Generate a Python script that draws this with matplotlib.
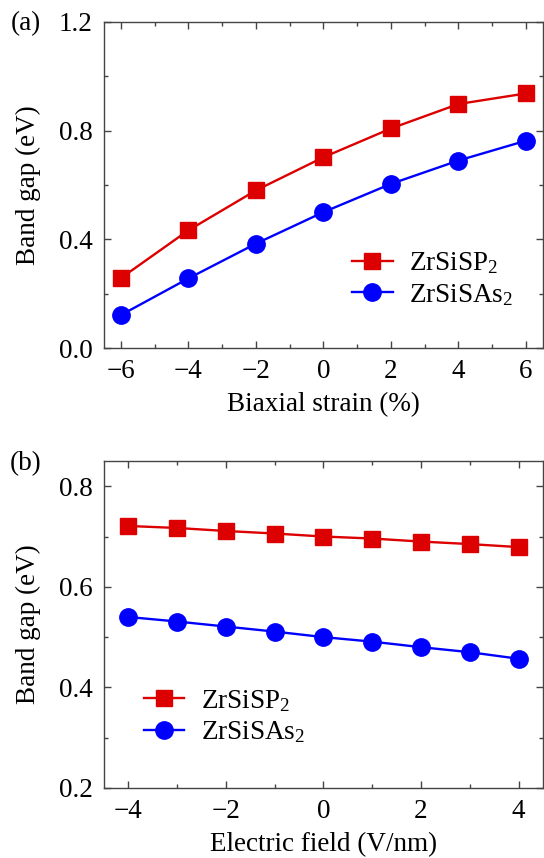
import numpy as np
import matplotlib
matplotlib.use('Agg')
import matplotlib.pyplot as plt
from matplotlib.ticker import MultipleLocator

# (a) band gap vs biaxial strain
strain = [-6, -4, -2, 0, 2, 4, 6]
gap_p_strain = [0.257, 0.433, 0.580, 0.702, 0.808, 0.898, 0.937]
gap_as_strain = [0.121, 0.256, 0.384, 0.500, 0.604, 0.690, 0.763]

# (b) band gap vs electric field
field = [-4, -3, -2, -1, 0, 1, 2, 3, 4]
gap_p_field = [0.721, 0.717, 0.711, 0.706, 0.700, 0.696, 0.690, 0.685, 0.679]
gap_as_field = [0.540, 0.531, 0.521, 0.511, 0.500, 0.491, 0.480, 0.470, 0.457]

labels = ['ZrSiSP$_2$', 'ZrSiSAs$_2$']
RED = '#DC0000'
BLUE = '#0000FF'

plt.rcParams.update({
    'font.family': 'Liberation Serif',
    'mathtext.fontset': 'custom',
    'mathtext.rm': 'Liberation Serif',
    'mathtext.it': 'Liberation Serif',
    'font.size': 19.5,
})

fig = plt.figure(figsize=(5.44, 8.58), dpi=100)
ax1 = fig.add_axes([0.191, 0.5944, 0.807, 0.380])
ax2 = fig.add_axes([0.191, 0.0816, 0.807, 0.381])


def style(ax):
    for s in ax.spines.values():
        s.set_color('#444444')
        s.set_linewidth(1.0)
    ax.tick_params(which='both', direction='in', top=True, right=True,
                   color='#444444', width=1.0)
    ax.tick_params(which='major', length=5)
    ax.tick_params(which='minor', length=3)
    ax.tick_params(axis='x', pad=8)
    ax.tick_params(axis='y', pad=8)


def legend(ax, x, y):
    ax.legend(loc='lower left', bbox_to_anchor=(x, y), frameon=False,
              borderaxespad=0, borderpad=0, handlelength=1.5,
              handletextpad=0.6, labelspacing=0.2)


ax1.plot(strain, gap_p_strain, '-s', color=RED, lw=1.7, ms=11.3, label=labels[0])
ax1.plot(strain, gap_as_strain, '-o', color=BLUE, lw=1.7, ms=12.5, label=labels[1])
ax1.set_xlim(-6.5, 6.5)
ax1.set_ylim(0, 1.2)
ax1.xaxis.set_minor_locator(MultipleLocator(1))
ax1.yaxis.set_minor_locator(MultipleLocator(0.2))
ax1.set_xticks(strain)
ax1.set_xticklabels([f'{v}'.replace('-', '\u2212') for v in strain])
ax1.set_yticks([0.0, 0.4, 0.8, 1.2])
ax1.set_yticklabels(['0.0', '0.4', '0.8', '1.2'])
ax1.set_xlabel('Biaxial strain (%)', labelpad=6)
ax1.set_ylabel('Band gap (eV)', labelpad=13)
style(ax1)
legend(ax1, 0.565, 0.123)
ax1.text(0.048, 0.972, '(a)', transform=fig.transFigure, ha='center', va='center')

ax2.plot(field, gap_p_field, '-s', color=RED, lw=1.7, ms=11.3, label=labels[0])
ax2.plot(field, gap_as_field, '-o', color=BLUE, lw=1.7, ms=12.5, label=labels[1])
ax2.set_xlim(-4.5, 4.5)
ax2.set_ylim(0.2, 0.85)
ax2.xaxis.set_minor_locator(MultipleLocator(1))
ax2.yaxis.set_minor_locator(MultipleLocator(0.1))
ax2.set_xticks([-4, -2, 0, 2, 4])
ax2.set_xticklabels(['\u22124', '\u22122', '0', '2', '4'])
ax2.set_yticks([0.2, 0.4, 0.6, 0.8])
ax2.set_yticklabels(['0.2', '0.4', '0.6', '0.8'])
ax2.set_xlabel('Electric field (V/nm)', labelpad=6)
ax2.set_ylabel('Band gap (eV)', labelpad=13)
style(ax2)
legend(ax2, 0.091, 0.131)
ax2.text(0.048, 1 - 464 / 858, '(b)', transform=fig.transFigure, ha='center', va='center')

fig.savefig('out.png', dpi=100)
